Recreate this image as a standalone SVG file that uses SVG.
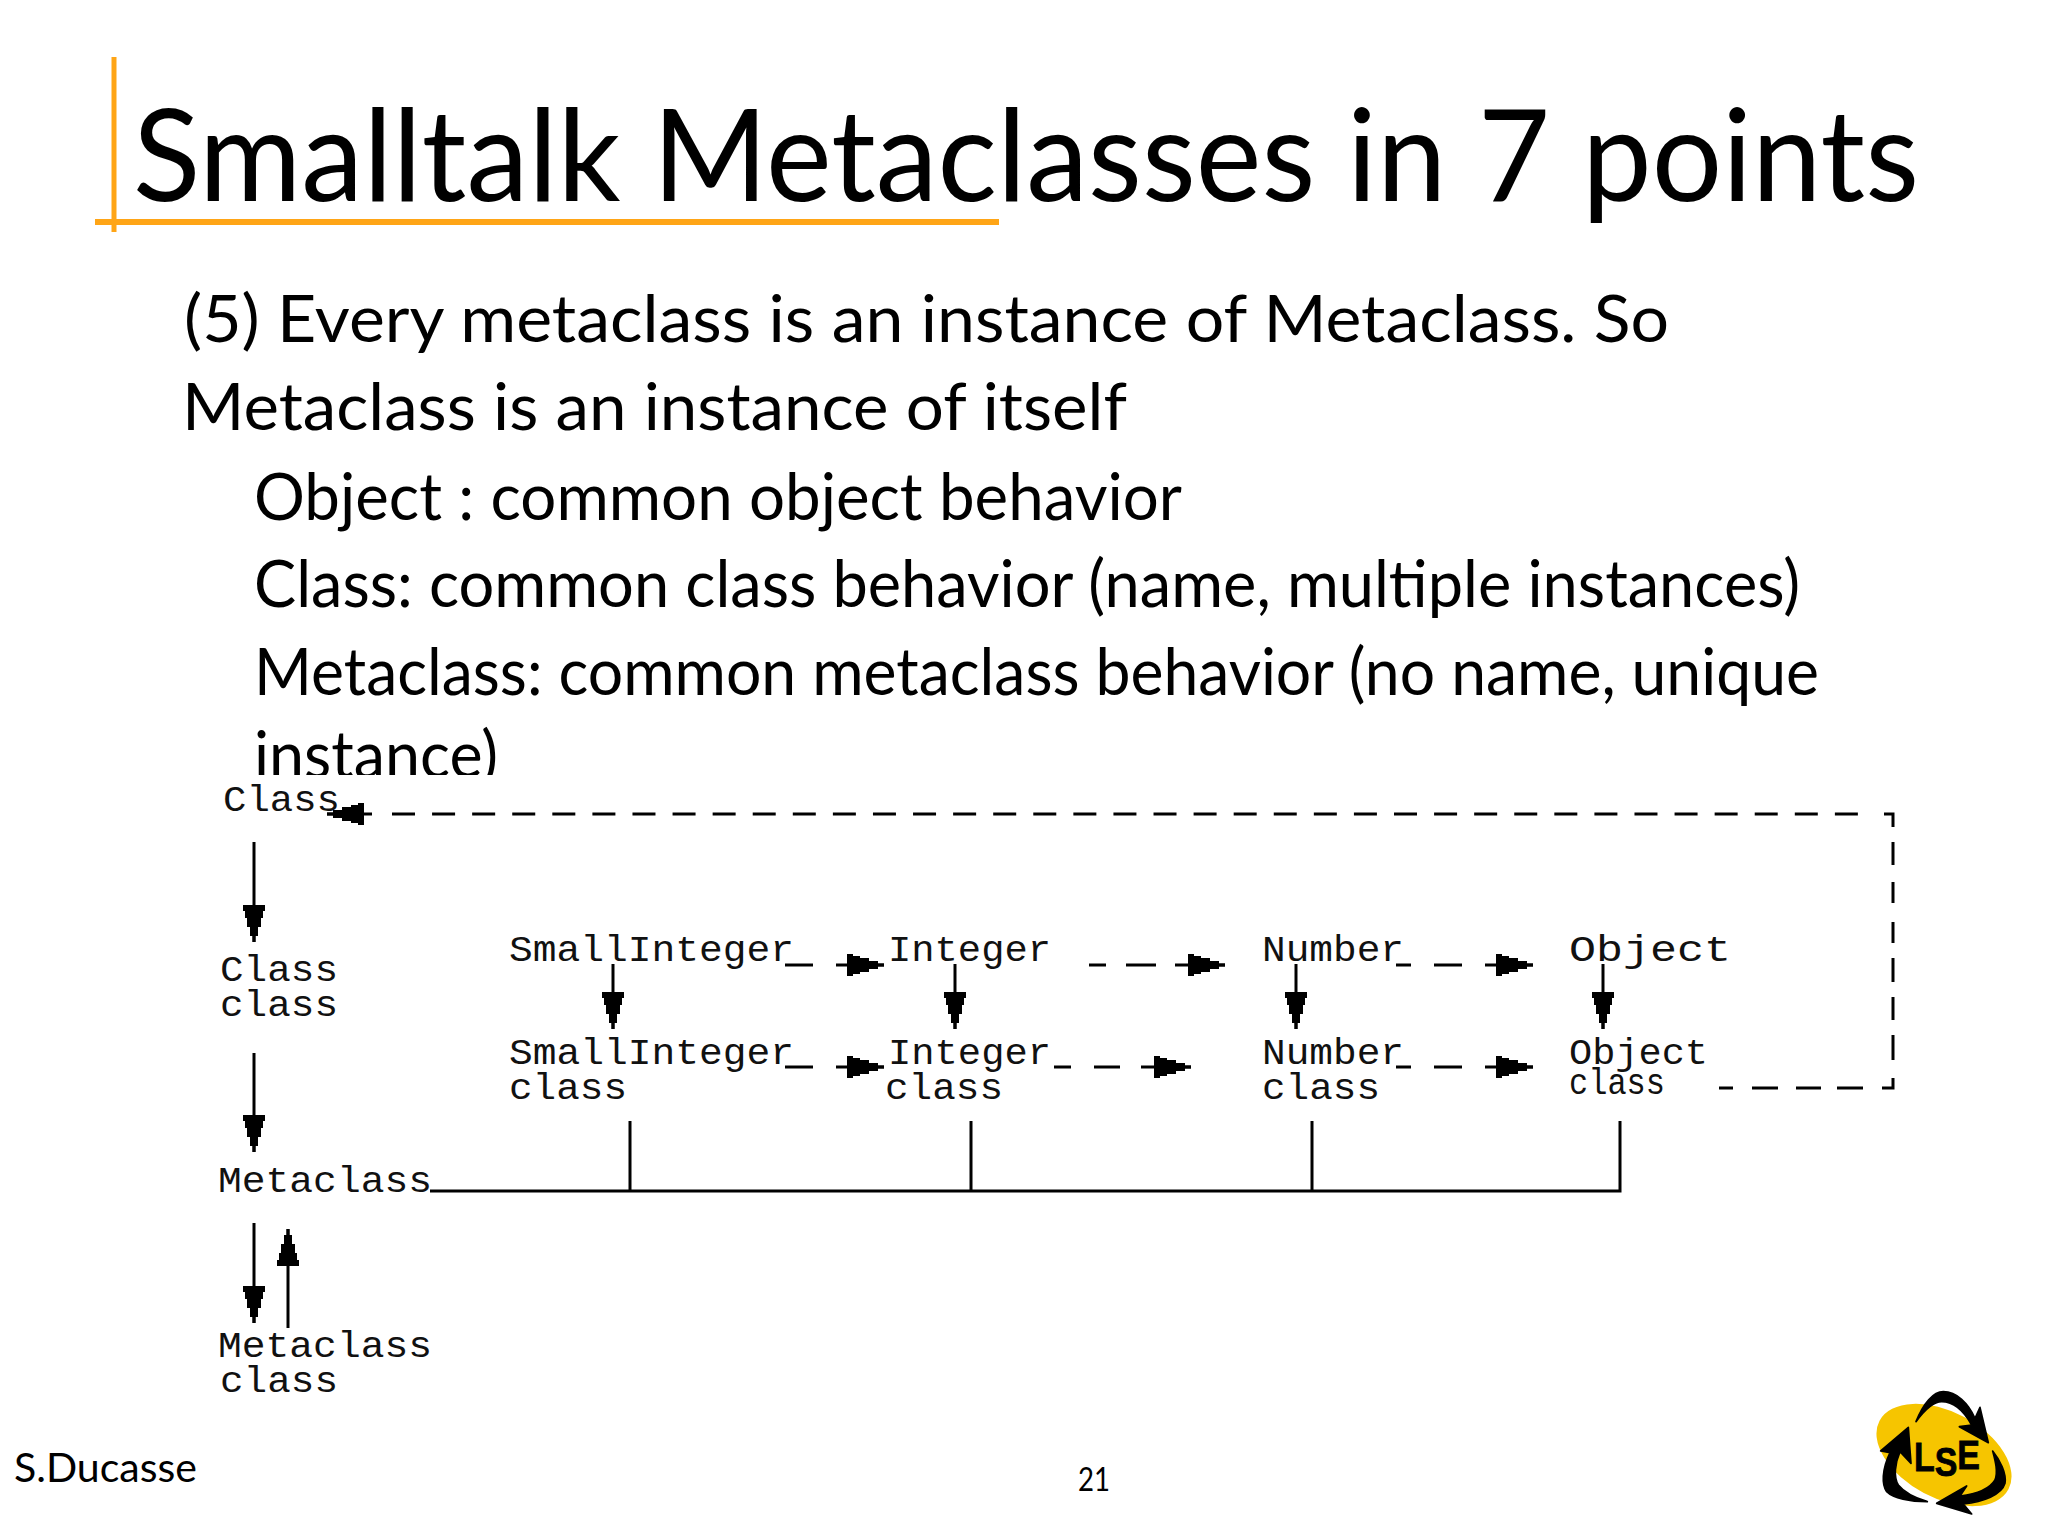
<svg xmlns="http://www.w3.org/2000/svg" width="2048" height="1536" viewBox="0 0 2048 1536">
<style>
.h{font-family:"Lato","Open Sans",sans-serif;fill:#000}
.t{font-size:128px}
.b{font-size:65px}
.f{font-size:40px}
.n{font-size:32px}
.m{font-family:"Liberation Mono","DejaVu Sans Mono",monospace;font-size:36px;fill:#111}
.l{stroke:#000;stroke-width:3;fill:none}
.d{stroke:#000;stroke-width:3;fill:none;stroke-dasharray:23 17.08}
.o{stroke:#FFA516;fill:none}
</style>
<defs>
<marker id="ah" markerUnits="userSpaceOnUse" markerWidth="40" markerHeight="26" refX="37" refY="13" orient="auto">
<path d="M0,2H6V4H13V6H22V9H31V11.500H37V14.500H31V17H22V20H13V22H6V24H0Z" fill="#000"/>
</marker>
</defs>
<rect width="2048" height="1536" fill="#fff"/>
<g id="title">
<text class="h t" x="133" y="201" textLength="1786" lengthAdjust="spacingAndGlyphs">Smalltalk Metaclasses in 7 points</text>
<path class="o" stroke-width="5" d="M114,57V232"/>
<path class="o" stroke-width="6" d="M95,222H999"/>
</g>
<g id="body">
<text class="h b" x="184" y="342" textLength="1485" lengthAdjust="spacingAndGlyphs">(5) Every metaclass is an instance of Metaclass. So</text>
<text class="h b" x="182" y="430" textLength="945" lengthAdjust="spacingAndGlyphs">Metaclass is an instance of itself</text>
<text class="h b" x="254" y="520" textLength="928" lengthAdjust="spacingAndGlyphs">Object : common object behavior</text>
<text class="h b" x="254" y="607" textLength="1546" lengthAdjust="spacingAndGlyphs">Class: common class behavior (name, multiple instances)</text>
<text class="h b" x="254" y="695" textLength="1565" lengthAdjust="spacingAndGlyphs">Metaclass: common metaclass behavior (no name, unique</text>
<text class="h b" x="254" y="778" textLength="244" lengthAdjust="spacingAndGlyphs">instance)</text>
</g>
<rect id="diagram-ground" x="200" y="775" width="1720" height="640" fill="#fff"/>
<g id="node-class"><text class="m" x="223" y="811" textLength="117" lengthAdjust="spacingAndGlyphs">Class</text></g>
<g id="node-class-class">
<text class="m" x="220" y="981" textLength="118" lengthAdjust="spacingAndGlyphs">Class</text>
<text class="m" x="220" y="1016" textLength="118" lengthAdjust="spacingAndGlyphs">class</text>
</g>
<g id="node-metaclass"><text class="m" x="218" y="1192" textLength="214" lengthAdjust="spacingAndGlyphs">Metaclass</text></g>
<g id="node-metaclass-class">
<text class="m" x="218" y="1357" textLength="214" lengthAdjust="spacingAndGlyphs">Metaclass</text>
<text class="m" x="220" y="1392" textLength="118" lengthAdjust="spacingAndGlyphs">class</text>
</g>
<g id="node-smallinteger"><text class="m" x="509" y="961" textLength="285" lengthAdjust="spacingAndGlyphs">SmallInteger</text></g>
<g id="node-integer"><text class="m" x="888" y="961" textLength="163" lengthAdjust="spacingAndGlyphs">Integer</text></g>
<g id="node-number"><text class="m" x="1262" y="961" textLength="142" lengthAdjust="spacingAndGlyphs">Number</text></g>
<g id="node-object"><text class="m" x="1569" y="961" textLength="162" lengthAdjust="spacingAndGlyphs">Object</text></g>
<g id="node-smallinteger-class">
<text class="m" x="509" y="1064" textLength="285" lengthAdjust="spacingAndGlyphs">SmallInteger</text>
<text class="m" x="509" y="1099" textLength="118" lengthAdjust="spacingAndGlyphs">class</text>
</g>
<g id="node-integer-class">
<text class="m" x="888" y="1064" textLength="163" lengthAdjust="spacingAndGlyphs">Integer</text>
<text class="m" x="885" y="1099" textLength="118" lengthAdjust="spacingAndGlyphs">class</text>
</g>
<g id="node-number-class">
<text class="m" x="1262" y="1064" textLength="142" lengthAdjust="spacingAndGlyphs">Number</text>
<text class="m" x="1262" y="1099" textLength="118" lengthAdjust="spacingAndGlyphs">class</text>
</g>
<g id="node-object-class">
<text class="m" x="1569" y="1064" textLength="139" lengthAdjust="spacingAndGlyphs">Object</text>
<text class="m" x="1569" y="1094" textLength="96" lengthAdjust="spacingAndGlyphs">class</text>
</g>
<g id="connectors">
<path class="l" marker-end="url(#ah)" d="M254,842V942"/>
<path class="l" marker-end="url(#ah)" d="M254,1053V1152"/>
<path class="l" marker-end="url(#ah)" d="M254,1223V1323"/>
<path class="l" marker-end="url(#ah)" d="M288,1328V1229"/>
<path class="l" marker-end="url(#ah)" d="M613,964V1029"/>
<path class="l" marker-end="url(#ah)" d="M955,964V1029"/>
<path class="l" marker-end="url(#ah)" d="M1296,964V1029"/>
<path class="l" marker-end="url(#ah)" d="M1603,964V1029"/>
<path class="l" d="M785,965H813"/><path class="l" marker-end="url(#ah)" d="M836,965H884"/>
<path class="l" d="M785,1067H813"/><path class="l" marker-end="url(#ah)" d="M836,1067H884"/>
<path class="l" d="M1089,965H1106M1126,965H1156"/><path class="l" marker-end="url(#ah)" d="M1175,965H1225"/>
<path class="l" d="M1054,1067H1071M1094,1067H1120"/><path class="l" marker-end="url(#ah)" d="M1141,1067H1191"/>
<path class="l" d="M1396,965H1411M1434,965H1462"/><path class="l" marker-end="url(#ah)" d="M1485,965H1533"/>
<path class="l" d="M1396,1067H1411M1434,1067H1462"/><path class="l" marker-end="url(#ah)" d="M1485,1067H1533"/>
<path class="l" d="M1719,1088H1733M1752,1088H1778M1796,1088H1821M1837,1088H1863M1882,1088H1893V1078"/>
<path class="l" d="M1893,1060V1035M1893,1020V997M1893,982V958M1893,943V922M1893,903V882M1893,865V842M1893,827V814H1884"/>
<path class="d" d="M392,814H1864"/>
<path class="l" marker-end="url(#ah)" d="M372,814H327"/>
<path class="l" d="M430,1191H1620V1121M630,1191V1121M971,1191V1121M1312,1191V1121"/>
</g>
<g id="footer">
<text class="h f" x="14" y="1482" textLength="183" lengthAdjust="spacingAndGlyphs">S.Ducasse</text>
<text class="h n" x="1078" y="1491" textLength="32" lengthAdjust="spacingAndGlyphs">21</text>
</g>
<g id="logo">
<ellipse cx="1944" cy="1455" rx="73" ry="43" transform="rotate(28 1944 1455)" fill="#F6C500"/>
<g transform="translate(1840 1370) scale(.33333)" fill="#000" stroke="#000" stroke-width="5" stroke-linejoin="round">
<path d="M228,155C250,100 280,65 310,65C350,65 385,100 405,145L420,112L445,218L358,170L395,165C370,120 340,95 305,95C280,95 250,125 228,155Z"/>
<path d="M205,172L213,280L180,245C165,280 160,320 175,345C195,370 230,385 262,395C210,395 160,385 140,365C125,345 125,300 150,248L122,243Z"/>
<path d="M458,243C480,270 500,310 495,340C485,375 430,395 370,402L395,432L290,400L380,348L360,378C410,372 450,355 465,330C475,305 465,270 458,243Z"/>
</g>
<text x="1914" y="1471" font-family="Liberation Sans,sans-serif" font-weight="700" font-size="40" textLength="66" lengthAdjust="spacingAndGlyphs" stroke="#000" stroke-width=".8" fill="#000">L<tspan dy="5">S</tspan><tspan dy="-7">E</tspan></text>
</g>
</svg>
